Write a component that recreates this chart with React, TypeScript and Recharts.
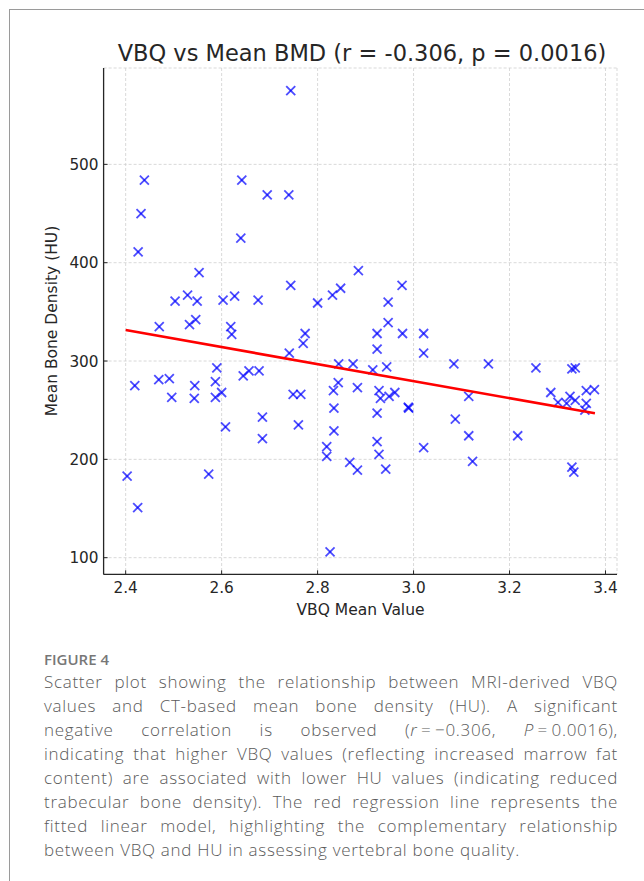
import React from "react";
import {
  ComposedChart,
  Scatter,
  XAxis,
  YAxis,
  CartesianGrid,
} from "recharts";

// VBQ mean value per subject
const vbq = [
  2.744, 2.439, 2.642, 2.695, 2.74, 2.432, 2.64, 2.426, 2.553, 2.744,
  2.885, 2.503, 2.529, 2.549, 2.603, 2.627, 2.676, 2.8, 2.831, 2.848,
  2.976, 2.947, 2.47, 2.533, 2.546, 2.619, 2.621, 2.774, 2.77, 2.741,
  2.59, 2.419, 2.469, 2.491, 2.544, 2.587, 2.496, 2.543, 2.587, 2.6,
  2.645, 2.657, 2.678, 2.749, 2.765, 2.685, 2.608, 2.76, 2.685, 2.844,
  2.874, 2.843, 2.833, 2.883, 2.834, 2.834, 2.819, 2.819, 2.867, 2.883,
  2.403, 2.573, 2.425, 2.826, 2.947, 2.924, 2.977, 3.021, 2.924, 3.021,
  2.915, 2.944, 3.084, 3.156, 3.255, 3.33, 3.337, 2.928, 2.931, 2.949,
  2.961, 2.924, 2.989, 2.99, 3.021, 2.924, 2.928, 2.942, 3.087, 3.115,
  3.115, 3.123, 3.217, 3.286, 3.301, 3.319, 3.326, 3.337, 3.36, 3.377,
  3.36, 3.357, 3.33, 3.334,
];

// mean bone density (HU), same order
const hu = [
  575, 484, 484, 469, 469, 450, 425, 411, 390, 377,
  392, 361, 367, 361, 362, 366, 362, 359, 367, 374,
  377, 360, 335, 337, 342, 335, 327, 328, 318, 308,
  293, 275, 281, 282, 275, 279, 263, 262, 263, 268,
  285, 290, 290, 266, 266, 243, 233, 235, 221, 297,
  297, 278, 270, 273, 252, 229, 213, 203, 197, 189,
  183, 185, 151, 106, 339, 328, 328, 328, 312, 308,
  291, 294, 297, 297, 293, 292, 293, 270, 262, 264,
  268, 247, 253, 252, 212, 218, 205, 190, 241, 264,
  224, 198, 224, 268, 258, 257, 264, 260, 270, 271,
  257, 250, 192, 187,
];

// fitted regression line ends
const fitVbq = [2.4, 3.378];
const fitHu = [331.5, 246.8];

const xTicks = [2.4, 2.6, 2.8, 3.0, 3.2, 3.4];
const yTicks = [100, 200, 300, 400, 500];

const points = vbq.map((v, i) => ({ x: v, y: hu[i] }));
const fit = fitVbq.map((v, i) => ({ x: v, y: fitHu[i] }));

const AX = "#262626";
const TICK_FONT = "'DejaVu Sans', sans-serif";

// caption, broken as in the figure
const captionLines: React.ReactNode[] = [
  "Scatter plot showing the relationship between MRI-derived VBQ",
  "values and CT-based mean bone density (HU). A significant",
  <>
    negative correlation is observed (<i>r</i>{"\u2009=\u2009"}−0.306,{" "}
    <i>P</i>{"\u2009=\u2009"}0.0016),
  </>,
  "indicating that higher VBQ values (reflecting increased marrow fat",
  "content) are associated with lower HU values (indicating reduced",
  "trabecular bone density). The red regression line represents the",
  "fitted linear model, highlighting the complementary relationship",
  "between VBQ and HU in assessing vertebral bone quality.",
];

const Cross = (props: any) => {
  const { cx, cy } = props;
  const s = 4.5;
  return (
    <g stroke="#0000ff" strokeOpacity={0.7} strokeWidth={1.8}>
      <line x1={cx - s} y1={cy - s} x2={cx + s} y2={cy + s} />
      <line x1={cx - s} y1={cy + s} x2={cx + s} y2={cy - s} />
    </g>
  );
};

const XTick = (props: any) => {
  const { x, y, payload } = props;
  return (
    <g>
      <line x1={x} y1={y} x2={x} y2={y - 4} stroke={AX} strokeWidth={1} />
      <text
        x={x}
        y={y + 18.5}
        textAnchor="middle"
        fill={AX}
        fontSize={15.3}
        fontFamily={TICK_FONT}
      >
        {Number(payload.value).toFixed(1)}
      </text>
    </g>
  );
};

const YTick = (props: any) => {
  const { x, y, payload } = props;
  return (
    <g>
      <line x1={x} y1={y} x2={x + 4} y2={y} stroke={AX} strokeWidth={1} />
      <text
        x={x - 5}
        y={y + 5.6}
        textAnchor="end"
        fill={AX}
        fontSize={15.3}
        fontFamily={TICK_FONT}
      >
        {payload.value}
      </text>
    </g>
  );
};

export default function App() {
  return (
    <div
      style={{
        position: "absolute",
        left: 0,
        top: 0,
        width: 644,
        height: 881,
        background: "#fff",
        overflow: "hidden",
      }}
    >
      <div
        style={{
          position: "absolute",
          left: 9,
          top: 9,
          right: 0,
          bottom: 0,
          borderTop: "1px solid #9a9a9a",
          borderLeft: "1px solid #9a9a9a",
        }}
      />
      <div style={{ position: "absolute", left: 0, top: 0 }}>
        <ComposedChart
          width={644}
          height={640}
          margin={{ top: 68, right: 27, bottom: 35.6, left: 43.6 }}
        >
          <CartesianGrid
            stroke="#cfcfcf"
            strokeDasharray="3 2"
            strokeWidth={0.8}
          />
          <XAxis
            type="number"
            dataKey="x"
            domain={[2.354, 3.424]}
            ticks={xTicks}
            allowDataOverflow
            height={30}
            tickSize={0}
            tickMargin={0}
            tickLine={false}
            axisLine={{ stroke: AX, strokeWidth: 1.3 }}
            tick={<XTick />}
          />
          <YAxis
            type="number"
            dataKey="y"
            domain={[83, 598]}
            ticks={yTicks}
            allowDataOverflow
            width={60}
            tickSize={0}
            tickMargin={0}
            tickLine={false}
            axisLine={{ stroke: AX, strokeWidth: 1.3 }}
            tick={<YTick />}
          />
          <Scatter
            data={points}
            shape={<Cross />}
            isAnimationActive={false}
          />
          <Scatter
            data={fit}
            line={{ stroke: "#ff0000", strokeWidth: 2.6 }}
            shape={() => <g />}
            isAnimationActive={false}
          />
        </ComposedChart>
      </div>
      <svg
        width={644}
        height={640}
        style={{ position: "absolute", left: 0, top: 0, pointerEvents: "none" }}
      >
        <text
          x={362}
          y={61}
          textAnchor="middle"
          fontSize={22.5}
          fontFamily={TICK_FONT}
          fill={AX}
        >
          VBQ vs Mean BMD (r = -0.306, p = 0.0016)
        </text>
        <text
          x={360.5}
          y={615}
          textAnchor="middle"
          fontSize={15.5}
          fontFamily={TICK_FONT}
          fill={AX}
        >
          VBQ Mean Value
        </text>
        <text
          transform="translate(57,321) rotate(-90)"
          textAnchor="middle"
          fontSize={15.5}
          fontFamily={TICK_FONT}
          fill={AX}
        >
          Mean Bone Density (HU)
        </text>
      </svg>
      <div
        style={{
          position: "absolute",
          left: 44,
          top: 650,
          fontFamily: "'Open Sans', sans-serif",
          fontSize: 15,
          lineHeight: "18px",
          fontWeight: 600,
          color: "#777",
        }}
      >
        FIGURE 4
      </div>
      <div
        style={{
          position: "absolute",
          left: 44,
          top: 670,
          width: 574,
          fontFamily: "'Open Sans', sans-serif",
          fontSize: 17,
          letterSpacing: "0.7px",
          lineHeight: "24px",
          fontWeight: 300,
          color: "#5a5a5a",
        }}
      >
        {captionLines.map((line, i) => (
          <div
            key={i}
            style={{
              whiteSpace: "nowrap",
              textAlign: "justify",
              textAlignLast:
                i === captionLines.length - 1 ? "left" : "justify",
            }}
          >
            {line}
          </div>
        ))}
      </div>
    </div>
  );
}
